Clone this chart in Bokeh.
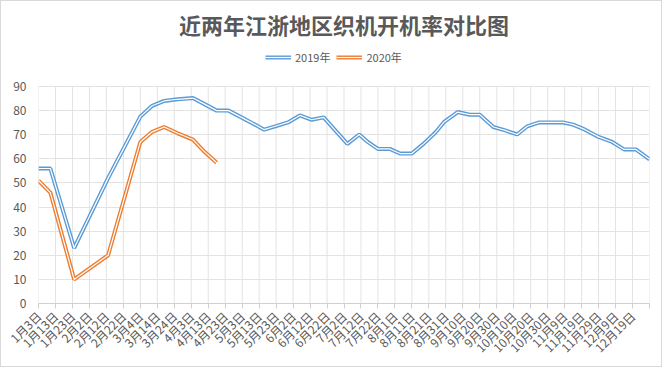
import math
import pandas as pd
from bokeh.plotting import figure
from bokeh.models import FixedTicker, Legend, LegendItem
from bokeh.embed import file_html
from bokeh.resources import INLINE

# ---------------- data ----------------
title_text = "近两年江浙地区织机开机率对比图"

dates = ["2019-01-03", "2019-01-10", "2019-01-24", "2019-02-13", "2019-03-04", "2019-03-11",
         "2019-03-18", "2019-03-26", "2019-04-04", "2019-04-10", "2019-04-18", "2019-04-25",
         "2019-05-02", "2019-05-09", "2019-05-16", "2019-05-23", "2019-05-30", "2019-06-06",
         "2019-06-13", "2019-06-20", "2019-06-27", "2019-07-04", "2019-07-11", "2019-07-16",
         "2019-07-22", "2019-07-29", "2019-08-04", "2019-08-11", "2019-08-18", "2019-08-25",
         "2019-08-30", "2019-09-07", "2019-09-14", "2019-09-20", "2019-09-28", "2019-10-05",
         "2019-10-12", "2019-10-18", "2019-10-25", "2019-11-01", "2019-11-08", "2019-11-14",
         "2019-11-21", "2019-11-29", "2019-12-07", "2019-12-14", "2019-12-21", "2019-12-29"]

values_2019 = [56, 56, 23, 52, 77.5, 82, 84, 84.7, 85.2, 83, 80, 80,
               77.4, 74.8, 72.1, 73.6, 75.1, 78, 76.2, 77.2, 71.7, 66.2, 70.1, 67,
               64.1, 64.1, 62.2, 62.2, 66.3, 71, 75.3, 79.4, 78.3, 78.3, 73.2, 71.8,
               70.1, 73.5, 75.1, 75.1, 75.1, 74.2, 72.1, 69.1, 67, 63.9, 63.9, 59.8]

values_2020 = [51, 46, 10, 20, 67, 71.2, 73.2, 70.6, 68, 63.5, 58.4]

tick_labels = ["1月3日", "1月13日", "1月23日", "2月2日", "2月12日", "2月22日", "3月4日", "3月14日",
               "3月24日", "4月3日", "4月13日", "4月23日", "5月3日", "5月13日", "5月23日", "6月2日",
               "6月12日", "6月22日", "7月2日", "7月12日", "7月22日", "8月1日", "8月11日", "8月21日",
               "8月31日", "9月10日", "9月20日", "9月30日", "10月10日", "10月20日", "10月30日",
               "11月9日", "11月19日", "11月29日", "12月9日", "12月19日"]

y_ticks = [0, 10, 20, 30, 40, 50, 60, 70, 80, 90]

series_names = ["2019年", "2020年"]
colors = ["#5b9bd5", "#ed7d31"]

# ---------------- derived ----------------
base = pd.Timestamp(dates[0])
x_days = [(pd.Timestamp(d) - base).days for d in dates]
x_ticks = [i * 10 for i in range(len(tick_labels) + 1)]
overrides = {t: (tick_labels[i] if i < len(tick_labels) else "") for i, t in enumerate(x_ticks)}

FONT = "Noto Sans CJK SC"
TXT = "#595959"
GRID = "#e3e3e3"

# layout (pixels)
W, H = 662, 367
TOP, BOTTOM, LEFT, RIGHT = 40, 65, 37, 14
frame_h = H - TOP - BOTTOM
grid_h = 217
y_end = y_ticks[-1] * frame_h / grid_h

p = figure(width=W, height=H, x_range=(0, x_ticks[-1]), y_range=(y_ticks[0], y_end),
           output_backend="svg", toolbar_location=None,
           min_border_left=LEFT, min_border_right=RIGHT, min_border_top=TOP, min_border_bottom=BOTTOM)
p.styles = {"border": "1px solid #d9d9d9"}
p.outline_line_color = None
p.border_fill_color = "white"
p.background_fill_color = "white"

p.title.text = title_text
p.title.align = "center"
p.title.text_font = FONT
p.title.text_font_size = "22px"
p.title.text_font_style = "bold"
p.title.text_color = TXT
p.title.standoff = 4

# axes
p.xaxis.ticker = FixedTicker(ticks=x_ticks)
p.xaxis.major_label_overrides = overrides
p.xaxis.major_label_orientation = math.pi / 4
p.xaxis.major_label_text_font = FONT
p.xaxis.major_label_text_font_size = "12px"
p.xaxis.major_label_text_color = TXT
p.xaxis.axis_line_color = "#d0d0d0"
p.xaxis.major_tick_line_color = "#d0d0d0"
p.xaxis.major_tick_out = 5
p.xaxis.major_tick_in = 0
p.xaxis.minor_tick_line_color = None
p.xaxis.major_label_standoff = 5

p.yaxis.ticker = FixedTicker(ticks=y_ticks)
p.yaxis.major_label_text_font = FONT
p.yaxis.major_label_text_font_size = "12px"
p.yaxis.major_label_text_color = TXT
p.yaxis.axis_line_color = None
p.yaxis.major_tick_line_color = None
p.yaxis.minor_tick_line_color = None
p.yaxis.major_label_standoff = 6

p.xgrid.grid_line_color = None
p.ygrid.ticker = FixedTicker(ticks=y_ticks)
p.ygrid.grid_line_color = GRID
# vertical grid lines limited to the value range
p.segment(x0=x_ticks, y0=[y_ticks[0]] * len(x_ticks), x1=x_ticks, y1=[y_ticks[-1]] * len(x_ticks),
          line_color=GRID, line_width=1)

# double lines
items = []
for name, vals, col in zip(series_names, [values_2019, values_2020], colors):
    xs = x_days[:len(vals)]
    r1 = p.line(xs, vals, line_color=col, line_width=4)
    r2 = p.line(xs, vals, line_color="white", line_width=1.2)
    items.append(LegendItem(label=name, renderers=[r1, r2]))

legend = Legend(items=items, orientation="horizontal", location=(227, 238),
                border_line_color=None, background_fill_alpha=0,
                label_text_font=FONT, label_text_font_size="11px", label_text_color=TXT,
                glyph_width=26, glyph_height=12, label_standoff=4, spacing=6,
                padding=0, margin=0)
p.add_layout(legend, "center")

open("out.html", "w").write(file_html(p, INLINE))
